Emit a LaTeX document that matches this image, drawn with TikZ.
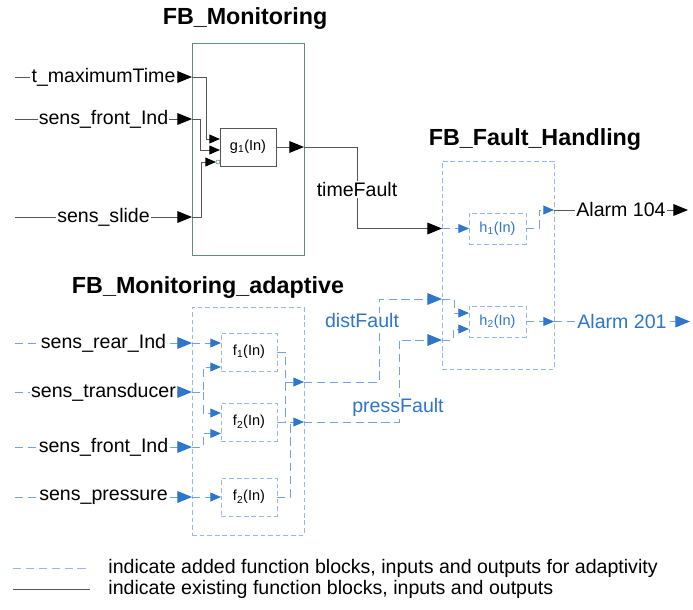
\documentclass[tikz,border=0pt]{standalone}
\usepackage{fontspec}
\setmainfont{Liberation Sans}
\usetikzlibrary{arrows.meta,calc,positioning}
\definecolor{ablue}{RGB}{46,117,204}
\definecolor{lblue}{RGB}{115,162,225}
\definecolor{bblue}{RGB}{150,185,232}
\definecolor{wgray}{RGB}{85,85,85}
\definecolor{mgreen}{RGB}{100,140,120}
\tikzset{
  ktip/.tip={Triangle[length=12.5pt,width=10pt,color=black]},
  ksml/.tip={Triangle[length=9pt,width=7.5pt,color=black]},
  btip/.tip={Triangle[length=12.5pt,width=10pt,color=ablue]},
  bsml/.tip={Triangle[length=9pt,width=7.5pt,color=ablue]},
}

\begin{document}
\begin{tikzpicture}[x=0.03cm,y=-0.03cm,
    title/.style={font=\fontsize{19.9}{22}\selectfont\bfseries},
    lab/.style={font=\fontsize{16.7}{19}\selectfont, fill=white, inner sep=1pt},
    fbox/.style={draw, line width=0.8pt, inner sep=0pt, outer sep=0pt},
    abox/.style={fbox, draw=bblue, dash pattern=on 4pt off 2.5pt},
    blk/.style={fbox, draw=wgray, minimum width=1.68cm, minimum height=1.14cm, font=\fontsize{12.4}{14}\selectfont},
    ablk/.style={blk, draw=bblue, dash pattern=on 4pt off 2.5pt},
    hblk/.style={minimum width=1.71cm, minimum height=0.93cm, text=ablue},
    wire/.style={draw=wgray, line width=0.8pt},
    awire/.style={draw=lblue, line width=0.8pt, dash pattern=on 7pt off 4pt}]
  \useasboundingbox (0,0) rectangle (693,609);

  \node[title] (tmon) at (245,19) {FB\_Monitoring};
  \node[title] (tfh) at (535,140) {FB\_Fault\_Handling};
  \node[title] (tad) at (208,288) {FB\_Monitoring\_adaptive};

  \node[fbox, draw=mgreen, minimum width=3.36cm, minimum height=6.36cm] (mon) at (248,149) {};
  \node[abox, minimum width=3.36cm, minimum height=6.24cm] (fh) at (498,265) {};
  \node[abox, minimum width=3.36cm, minimum height=6.84cm] (ad) at (248,421) {};

  \node[blk] (g1) at (248,147) {g\textsubscript{1}(In)};
  \node[ablk] (f1) at (249,352) {f\textsubscript{1}(In)};
  \node[ablk] (f2a) at (249,422) {f\textsubscript{2}(In)};
  \node[ablk] (f2b) at (249,497) {f\textsubscript{2}(In)};
  \node[ablk, hblk] (h1) at (497.5,228.5) {h\textsubscript{1}(In)};
  \node[ablk, hblk] (h2) at (497.5,321.5) {h\textsubscript{2}(In)};

  \foreach \nm/\yy/\txt in {max/77/t\_maximumTime, front/119/sens\_front\_Ind, slide/217/sens\_slide}
    \draw[wire,-ktip] (15,\yy) coordinate (s\nm) -- node[lab] (l\nm) {\txt} (mon.west |- s\nm);
  \draw[wire,-ksml] (mon.west |- smax) -| ($(g1.west)+(-14,-8)$) -- ($(g1.west)+(0,-8)$);
  \draw[wire,-ksml] (mon.west |- sfront) -| ($(g1.west)+(-20,3)$) -- ($(g1.west)+(0,3)$);
  \draw[wire,-ksml] (mon.west |- sslide) -| ($(g1.west)+(-19,15)$) -- ($(g1.west)+(-4,15)$);
  \draw[draw=mgreen, line width=0.5pt] ($(g1.west)+(-2,15)$) circle[radius=1.7pt];
  \draw[wire,-ktip] (g1.east) -- (mon.east |- g1.east);
  \draw[wire,-ktip] (mon.east |- g1.east) -| node[lab,pos=0.76] (ltf) {timeFault} ($(fh.west |- h1.west)+(-85,0)$) -- (fh.west |- h1.west);

  \draw[awire,-bsml] (fh.west |- h1.west) -- (h1.west);
  \coordinate (a104) at ($(fh.east |- h1.north)+(0,-3)$);
  \draw[awire,-bsml] (h1.east) -| ($(a104)+(-15,0)$) -- (a104);
  \draw[wire,-ktip] (a104) -- node[lab] (lal1) {Alarm 104} ++(134,0);

  \coordinate (dfin) at ($(h2.west)+(-27,-22.5)$);
  \coordinate (pfin) at ($(h2.west)+(-27,18.5)$);
  \draw[awire,-bsml] (dfin) -| ($(h2.west)+(-15,-8.5)$) -- ($(h2.west)+(0,-8.5)$);
  \draw[awire,-bsml] (pfin) -| ($(h2.west)+(-16,7.5)$) -- ($(h2.west)+(0,7.5)$);
  \draw[awire,-bsml] (h2.east) -- (fh.east |- h2.east);
  \draw[awire,-btip] (fh.east |- h2.east) -- node[lab,text=ablue] (lal2) {Alarm 201} ++(136,0);

  \foreach \nm/\yy/\txt in {rear/343/sens\_rear\_Ind, trans/392/sens\_transducer, frontb/447/sens\_front\_Ind, pres/497/sens\_pressure}
    \draw[awire,-btip] (15,\yy) coordinate (s\nm) -- node[lab] (l\nm) {\txt} (ad.west |- s\nm);
  \draw[awire,-bsml] (ad.west |- srear) -- (f1.west |- srear);
  \draw[awire,-bsml] (ad.west |- strans) -| ($(f1.west)+(-18,15)$) -- ($(f1.west)+(0,15)$);
  \draw[awire,-bsml] (ad.west |- strans) ++(11,0) |- ($(f2a.west)+(0,-9)$);
  \draw[awire,-bsml] (ad.west |- sfrontb) -| ($(f2a.west)+(-18,11.5)$) -- ($(f2a.west)+(0,11.5)$);
  \draw[awire,-bsml] (ad.west |- spres) -- (f2b.west);

  \coordinate (dpin) at ($(ad.east)+(0,-39)$);
  \coordinate (ppin) at (ad.east |- f2a.east);
  \draw[awire] (f1.east) -| ($(dpin)+(-19,0)$) |- (f2a.east);
  \draw[awire,-bsml] ($(dpin)+(-19,0)$) -- (dpin);
  \draw[awire] (f2b.east) -| ($(ppin)+(-14,0)$);
  \draw[awire,-bsml] ($(ppin)+(-14,0)$) -- (ppin);
  \draw[awire,-btip] (dpin) -| ($(dfin)+(-63,0)$) -- (dfin);
  \draw[awire,-btip] (ppin) -| ($(pfin)+(-43,0)$) -- (pfin);
  \node[lab,text=ablue] (ldist) at (362,321) {distFault};
  \node[lab,text=ablue] (lpress) at (398,407) {pressFault};

  \node[lab,anchor=west] (leg1) at (107,568) {indicate added function blocks, inputs and outputs for adaptivity};
  \node[lab,anchor=west] (leg2) at (107,589) {indicate existing function blocks, inputs and outputs};
  \draw[awire, draw=bblue] ($(leg1.west)+(-94,0)$) -- ($(leg1.west)+(-17,0)$);
  \draw[wire] ($(leg2.west)+(-94,0)$) -- ($(leg2.west)+(-17,0)$);
\end{tikzpicture}
\end{document}
